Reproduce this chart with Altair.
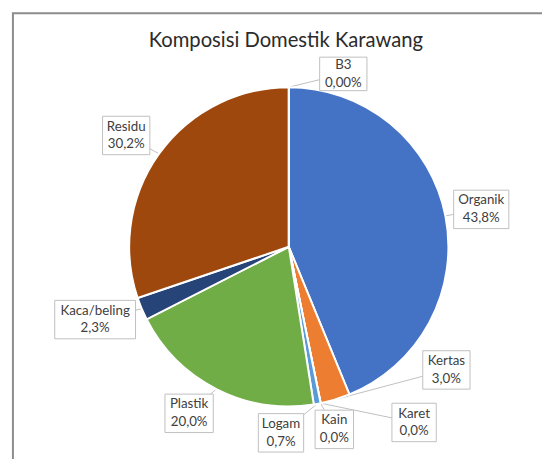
import math
import altair as alt
import pandas as pd

# ---- data ----
categories = ["Organik", "Kertas", "Karet", "Kain", "Logam", "Plastik", "Kaca/beling", "Residu", "B3"]
values = [43.8, 3.0, 0.0, 0.0, 0.7, 20.0, 2.3, 30.2, 0.0]
decimals = [1, 1, 1, 1, 1, 1, 1, 1, 2]
colors = ["#4472C4", "#ED7D31", "#A5A5A5", "#FFC000", "#5B9BD5", "#70AD47", "#264478", "#9E480E", "#636363"]
title_text = "Komposisi Domestik Karawang"

# ---- layout (pixels, view coordinates) ----
W, H = 542, 451
CX, CY, R = 285, 239, 162
label_angle = [79.0, 128.0, 144.5, 166.0, 182.4, 210.9, 249.4, 304.4, 17.5]   # deg clockwise from top
label_r = [199, 203, 219, 191, 189, 197, 210, 200, 184]
box_w = [56, 48, 45, 39, 46, 49, 82, 48, 48]
box_h = [39, 39, 39, 39, 39, 39, 39, 39, 34]
FONT = "Lato"
LINE_H = 18

total = sum(values)
rows = []
cum = 0.0
for i, (c, v) in enumerate(zip(categories, values)):
    start = cum / total * 360.0
    cum += v
    end = cum / total * 360.0
    mid = math.radians((start + end) / 2)
    la = math.radians(label_angle[i])
    lx = CX + label_r[i] * math.sin(la)
    ly = CY - label_r[i] * math.cos(la)
    pct = f"{v:.{decimals[i]}f}".replace(".", ",") + "%"
    rows.append({
        "idx": i, "cat": c, "value": v,
        "label": f"{c}\n{pct}",
        "tx": CX + R * math.sin(mid), "ty": CY - R * math.cos(mid),
        "lx": lx, "ly": ly,
        "bx1": lx - box_w[i] / 2, "bx2": lx + box_w[i] / 2,
        "by1": ly - box_h[i] / 2, "by2": ly + box_h[i] / 2,
    })
df = pd.DataFrame(rows)

one = alt.Data(values=[{}])

frame = alt.Chart(one).mark_rect(fillOpacity=0, stroke="#8c8c8c", strokeWidth=2).encode(
    x=alt.value(5), x2=alt.value(800), y=alt.value(2), y2=alt.value(800)
)

title = alt.Chart(one).mark_text(
    text=title_text, font=FONT, fontSize=20.5, color="#2b2b2b", align="center", baseline="middle"
).encode(x=alt.value(282), y=alt.value(30))

base = alt.Chart(df)

leaders = base.mark_rule(color="#BFBFBF", strokeWidth=1).encode(
    x=alt.X("tx:Q", scale=None, axis=None), y=alt.Y("ty:Q", scale=None, axis=None),
    x2="lx:Q", y2="ly:Q",
)

pie = base.mark_arc(outerRadius=R, stroke="white", strokeWidth=2).encode(
    theta=alt.Theta("value:Q", stack=True),
    color=alt.Color("cat:N", scale=alt.Scale(domain=categories, range=colors), legend=None),
    order=alt.Order("idx:Q"),
    x=alt.value(CX), y=alt.value(CY),
)

boxes = base.mark_rect(fill="white", stroke="#BFBFBF", strokeWidth=1).encode(
    x=alt.X("bx1:Q", scale=None, axis=None), x2="bx2:Q",
    y=alt.Y("by1:Q", scale=None, axis=None), y2="by2:Q",
)

labels = base.mark_text(
    font=FONT, fontSize=13.5, color="#404040", lineBreak="\n", lineHeight=LINE_H,
    align="center", baseline="middle", dy=-LINE_H / 2,
).encode(
    x=alt.X("lx:Q", scale=None, axis=None), y=alt.Y("ly:Q", scale=None, axis=None),
    text="label:N",
)

chart = alt.layer(frame, title, leaders, pie, boxes, labels).properties(
    width=W, height=H, padding=0, autosize="none"
).configure_view(stroke=None)

chart.save("out.html", embed_options={"renderer": "svg", "actions": False})
